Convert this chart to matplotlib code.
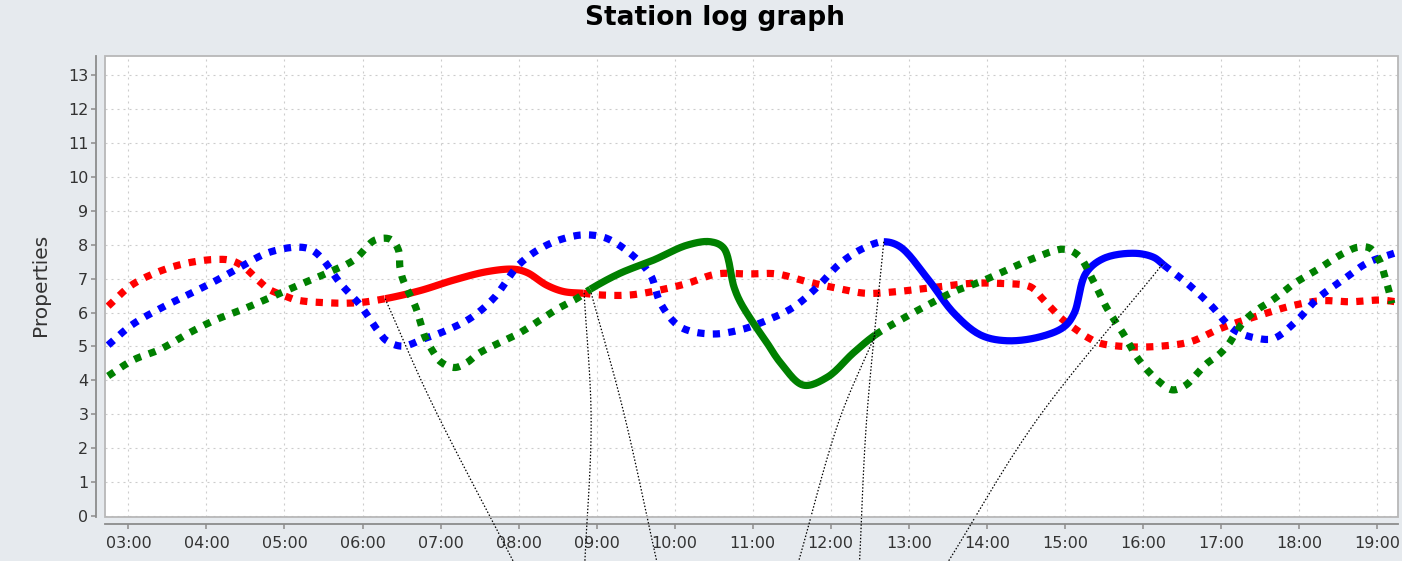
import numpy as np
import matplotlib
matplotlib.use("Agg")
import matplotlib.pyplot as plt
from matplotlib.patches import Rectangle
from matplotlib.ticker import FuncFormatter

# time of day in hours
red_t = [2.74, 3.04, 3.39, 3.75, 4.13, 4.33, 4.50, 4.65, 4.80, 4.97, 5.16, 5.54, 5.93, 6.29, 6.74,
         7.17, 7.60, 7.94, 8.11, 8.36, 8.58, 8.83, 9.05, 9.43, 9.82, 10.16, 10.54, 10.93, 11.31, 11.70,
         12.08, 12.45, 12.85, 13.24, 13.79, 14.18, 14.56, 14.71, 14.84, 14.97, 15.12, 15.29, 15.46, 15.84,
         16.23, 16.61, 16.95, 17.17, 17.51, 17.89, 18.28, 18.66, 19.05, 19.24]
red_v = [6.19, 6.81, 7.21, 7.46, 7.57, 7.53, 7.31, 6.98, 6.69, 6.52, 6.37, 6.29, 6.29, 6.41, 6.65,
         6.96, 7.21, 7.28, 7.18, 6.81, 6.62, 6.57, 6.52, 6.52, 6.67, 6.86, 7.14, 7.14, 7.14, 6.91,
         6.72, 6.57, 6.62, 6.72, 6.86, 6.86, 6.76, 6.42, 6.10, 5.80, 5.54, 5.27, 5.09, 4.99,
         5.01, 5.14, 5.49, 5.68, 5.93, 6.19, 6.35, 6.32, 6.37, 6.32]

blue_t = [2.74, 3.04, 3.39, 3.73, 4.07, 4.41, 4.77, 5.14, 5.33, 5.48, 5.71, 5.97, 6.19, 6.31, 6.51,
          6.80, 7.04, 7.38, 7.68, 8.02, 8.36, 8.71, 8.92, 9.13, 9.43, 9.69, 9.82, 10.07, 10.46, 10.84,
          11.19, 11.53, 11.83, 12.12, 12.42, 12.68, 12.89, 13.24, 13.58, 13.92, 14.26, 14.69, 14.99,
          15.12, 15.27, 15.50, 15.89, 16.14, 16.27, 16.57, 16.87, 17.17, 17.47, 17.68, 17.98, 18.24,
          18.56, 18.88, 19.22]
blue_v = [5.04, 5.63, 6.10, 6.49, 6.88, 7.31, 7.75, 7.93, 7.87, 7.60, 6.88, 6.22, 5.49, 5.17, 5.01,
          5.24, 5.44, 5.83, 6.42, 7.45, 7.99, 8.26, 8.29, 8.19, 7.75, 7.11, 6.27, 5.58, 5.37, 5.49,
          5.78, 6.17, 6.76, 7.45, 7.90, 8.09, 7.94, 7.01, 5.98, 5.34, 5.17, 5.29, 5.58,
          5.98, 7.16, 7.60, 7.75, 7.63, 7.40, 6.86, 6.22, 5.49, 5.24, 5.24, 5.78, 6.42,
          6.96, 7.47, 7.75]

green_t = [2.74, 3.06, 3.41, 3.77, 4.11, 4.47, 4.82, 5.18, 5.54, 5.89, 6.16, 6.36, 6.46, 6.48, 6.52,
           6.68, 6.74, 6.80, 6.89, 7.00, 7.18, 7.34, 7.49, 8.02, 8.49, 8.75, 8.92, 9.30, 9.73, 10.16,
           10.46, 10.63, 10.76, 10.84, 11.00, 11.16, 11.36, 11.65, 11.96, 12.29, 12.57, 12.89, 13.24,
           13.58, 13.92, 14.26, 14.60, 14.99, 15.18, 15.37, 15.54, 15.76, 15.95, 16.21, 16.38, 16.55,
           16.68, 16.82, 16.97, 17.10, 17.20, 17.32, 17.47, 17.63, 17.79, 17.94, 18.23, 18.57, 18.76,
           18.91, 19.04, 19.10, 19.15, 19.19]
green_v = [4.13, 4.60, 4.92, 5.39, 5.78, 6.10, 6.45, 6.81, 7.16, 7.55, 8.14, 8.16, 7.85, 7.33, 6.96,
           6.17, 5.73, 5.29, 4.90, 4.55, 4.38, 4.53, 4.80, 5.41, 6.10, 6.42, 6.69, 7.16, 7.55, 7.99,
           8.09, 7.90, 6.76, 6.32, 5.72, 5.19, 4.51, 3.86, 4.10, 4.81, 5.34, 5.78, 6.22,
           6.62, 6.91, 7.26, 7.60, 7.87, 7.67, 6.91, 6.13, 5.34, 4.60, 3.96, 3.72, 3.86,
           4.16, 4.50, 4.75, 5.07, 5.44, 5.80, 6.09, 6.32, 6.59, 6.86, 7.26, 7.75, 7.93,
           7.90, 7.50, 7.06, 6.67, 6.27]

# solid (highlighted) stretch of each series: start hour, end hour
red_hl = (6.29, 8.83)
blue_hl = (12.68, 16.27)
green_hl = (8.92, 12.57)

# thin black links that run off the bottom of the chart
link_t0 = [6.29, 8.84, 8.93, 12.68, 12.57, 16.25]
link_v0 = [6.41, 6.58, 6.58, 8.09, 5.34, 7.42]
link_t1 = [6.87, 8.93, 9.34, 12.46, 12.11, 14.64]
link_v1 = [3.42, 2.83, 3.12, 2.83, 2.83, 2.83]
link_t2 = [7.93, 8.85, 9.77, 12.37, 11.59, 13.51]
link_v2 = [-1.33, -1.33, -1.33, -1.33, -1.33, -1.33]

hours = list(range(3, 20))
yticks = list(range(0, 14))

BG = "#e6eaee"


def catmull_rom(pts, n=14, alpha=0.5):
    pts = np.vstack([2 * pts[0] - pts[1], pts, 2 * pts[-1] - pts[-2]])
    out = [pts[1]]
    for i in range(1, len(pts) - 2):
        p0, p1, p2, p3 = pts[i - 1], pts[i], pts[i + 1], pts[i + 2]
        t0 = 0.0
        t1 = t0 + max(np.linalg.norm(p1 - p0), 1e-6) ** alpha
        t2 = t1 + max(np.linalg.norm(p2 - p1), 1e-6) ** alpha
        t3 = t2 + max(np.linalg.norm(p3 - p2), 1e-6) ** alpha
        t = np.linspace(t1, t2, n + 1)[1:][:, None]
        a1 = (t1 - t) / (t1 - t0) * p0 + (t - t0) / (t1 - t0) * p1
        a2 = (t2 - t) / (t2 - t1) * p1 + (t - t1) / (t2 - t1) * p2
        a3 = (t3 - t) / (t3 - t2) * p2 + (t - t2) / (t3 - t2) * p3
        b1 = (t2 - t) / (t2 - t0) * a1 + (t - t0) / (t2 - t0) * a2
        b2 = (t3 - t) / (t3 - t1) * a2 + (t - t1) / (t3 - t1) * a3
        c = (t2 - t) / (t2 - t1) * b1 + (t - t1) / (t2 - t1) * b2
        out.extend(c)
    return np.array(out)


def smooth(ax, t, v):
    # spline in pixel space, back to data coords
    pix = ax.transData.transform(np.column_stack([t, v]))
    curve = ax.transData.inverted().transform(catmull_rom(pix))
    return curve[:, 0], curve[:, 1]


def draw_series(ax, t, v, color, hl, z):
    x, y = smooth(ax, t, v)
    i0 = int(np.argmax(x >= hl[0] - 1e-6))
    i1 = i0 + int(np.argmax(x[i0:] > hl[1] + 1e-6))
    dotted = dict(color=color, lw=5.2, linestyle=(0, (1, 1.15)), dash_capstyle="butt", zorder=z)
    ax.plot(x[:i0 + 1], y[:i0 + 1], **dotted)
    ax.plot(x[i0:i1], y[i0:i1], color=color, lw=5.2, solid_capstyle="butt",
            solid_joinstyle="round", zorder=z)
    ax.plot(x[i1 - 1:], y[i1 - 1:], **dotted)


fig = plt.figure(figsize=(14.02, 5.61), dpi=100, facecolor=BG)
ax = fig.add_axes([105 / 1402, 44 / 561, 1293 / 1402, 461 / 561])
ax.set_facecolor("white")
ax.set_xlim(2.70, 19.27)
ax.set_ylim(-0.03, 13.57)

ax.set_xticks(hours)
ax.set_yticks(yticks)
ax.xaxis.set_major_formatter(FuncFormatter(lambda h, _: "%02d:00" % int(round(h))))
ax.grid(True, color="#cccccc", lw=0.8, linestyle=(0, (1.8, 3.6)))
ax.set_axisbelow(True)

for s in ["top", "right"]:
    ax.spines[s].set_visible(False)
ax.spines["left"].set_position(("outward", 6.5))
ax.spines["bottom"].set_position(("outward", 5))
for s in ["left", "bottom"]:
    ax.spines[s].set_color("#8c8c8c")
    ax.spines[s].set_linewidth(1.3)
ax.tick_params(axis="both", colors="#8c8c8c", labelcolor="#333333", labelsize=11.5,
               length=3.5, width=1.1)
ax.tick_params(axis="y", pad=2)
ax.tick_params(axis="x", pad=5)

ax.add_patch(Rectangle((0, 0), 1, 1, transform=ax.transAxes, fill=False,
                       edgecolor="#b8b8b8", lw=1.3, zorder=10, clip_on=False))

draw_series(ax, red_t, red_v, "#ff0000", red_hl, 3)
draw_series(ax, blue_t, blue_v, "#0000ff", blue_hl, 4)
draw_series(ax, green_t, green_v, "#008000", green_hl, 5)

for k in range(len(link_t0)):
    lx, ly = smooth(ax, [link_t0[k], link_t1[k], link_t2[k]], [link_v0[k], link_v1[k], link_v2[k]])
    ax.plot(lx, ly, color="black", lw=0.9, linestyle=(0, (1.2, 1.5)), clip_on=False, zorder=6)

fig.text(0.51, 1 - 18 / 561, "Station log graph", ha="center", va="center",
         fontsize=19, fontweight="bold", color="black")
fig.text(40 / 1402, 1 - 285 / 561, "Properties", rotation=90, ha="center", va="center",
         fontsize=14.5, color="#333333")

fig.savefig("out.png", dpi=100, facecolor=BG)
